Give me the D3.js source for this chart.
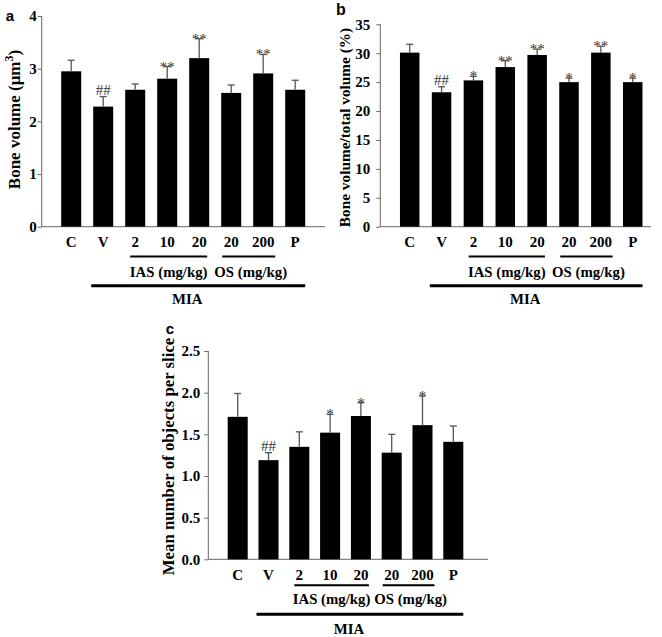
<!DOCTYPE html>
<html><head><meta charset="utf-8">
<script src="https://cdn.jsdelivr.net/npm/d3@7"></script>
<style>body{margin:0;background:#fff}svg{display:block}</style>
</head><body>
<svg id="chart" width="662" height="637"></svg>
<script>
// ---- data ----
const categories = ["C","V","2","10","20","20","200","P"];
const boneVolume = [2.95,2.28,2.60,2.81,3.20,2.54,2.91,2.60];
const boneVolumeErr = [0.21,0.19,0.11,0.23,0.37,0.15,0.36,0.18];
const bvtv = [30.1,23.25,25.3,27.6,29.7,25.0,30.1,25.0];
const bvtvErr = [1.45,0.95,0.7,1.1,1.0,0.7,1.1,0.7];
const objects = [1.71,1.19,1.35,1.52,1.72,1.28,1.61,1.41];
const objectsErr = [0.28,0.09,0.18,0.22,0.16,0.22,0.35,0.19];
const sigA = ["","##","","**","**","","**",""];
const sigB = ["","##","*","**","**","*","**","*"];
const sigC = ["","##","","*","*","","*",""];
const ticksA = [0,1,2,3,4];
const ticksB = [0,5,10,15,20,25,30,35];
const ticksC = [0,0.5,1.0,1.5,2.0,2.5];
const groupIAS = "IAS (mg/kg)", groupOS = "OS (mg/kg)", groupMIA = "MIA";

const svg = d3.select("#chart");
const SERIF = "'Liberation Serif','Times New Roman',serif";
const SANS = "'Liberation Sans',Arial,sans-serif";
const FS = 14.8;

function panel(o){
  const g = svg.append("g");
  const y = d3.scaleLinear().domain(o.domain).range([o.y0, o.y1]);
  const step = o.step;
  const x = d3.scaleBand().domain(d3.range(categories.length))
    .range([o.c0 - step/2, o.c0 - step/2 + step*categories.length])
    .paddingInner(o.pad).paddingOuter(o.pad/2);
  const bw = x.bandwidth();
  // y axis
  const ax = g.append("g").attr("transform",`translate(${o.ax},0)`)
    .call(d3.axisLeft(y).tickValues(o.ticks).tickSize(4).tickPadding(o.tp)
      .tickFormat(o.fmt));
  ax.select(".domain").attr("stroke","#666").attr("d",`M0,${o.y0}V${o.y1}`);
  ax.selectAll(".tick line").attr("stroke","#666");
  ax.selectAll(".tick text").attr("font-family",SERIF).attr("font-weight","bold")
    .attr("font-size",15).attr("fill","#000");
  // x axis baseline
  g.append("line").attr("x1",o.ax).attr("x2",o.axEnd).attr("y1",y(0)).attr("y2",y(0))
    .attr("stroke","#666").attr("stroke-width",1);
  // bars
  g.selectAll("rect.bar").data(o.values).join("rect")
    .attr("x",(d,i)=>x(i)).attr("width",bw)
    .attr("y",d=>y(d)).attr("height",d=>y(0)-y(d)).attr("fill","#000");
  // error bars
  const eg = g.selectAll("g.err").data(o.values).join("g");
  eg.append("line").attr("x1",(d,i)=>x(i)+bw/2).attr("x2",(d,i)=>x(i)+bw/2)
    .attr("y1",d=>y(d)).attr("y2",(d,i)=>y(d+o.err[i])).attr("stroke","#555").attr("stroke-width",1.3);
  eg.append("line").attr("x1",(d,i)=>x(i)+bw/2-3.5).attr("x2",(d,i)=>x(i)+bw/2+3.5)
    .attr("y1",(d,i)=>y(d+o.err[i])).attr("y2",(d,i)=>y(d+o.err[i])).attr("stroke","#555").attr("stroke-width",1.3);
  // significance
  g.selectAll("text.sig").data(o.values).join("text")
    .attr("x",(d,i)=>x(i)+bw/2)
    .attr("y",(d,i)=>y(d+o.err[i]) + (o.sig[i].startsWith("*") ? 5 : -2))
    .attr("text-anchor","middle").attr("font-family",SERIF).attr("font-size",15)
    .attr("fill","#333").text((d,i)=>o.sig[i]);
  // category labels
  g.selectAll("text.cat").data(categories).join("text")
    .attr("x",(d,i)=>x(i)+bw/2).attr("y",o.catY)
    .attr("text-anchor","middle").attr("font-family",SERIF).attr("font-weight","bold")
    .attr("font-size",15).text(d=>d);
  // group lines
  const ias0 = x(2)+5, ias1 = x(4)+bw-2, os0 = x(5)+1, os1 = x(6)+bw+2;
  const mia0 = x(1)-2, mia1 = x(7)+bw;
  g.append("line").attr("x1",ias0).attr("x2",ias1).attr("y1",o.grpY).attr("y2",o.grpY).attr("stroke","#000").attr("stroke-width",2);
  g.append("line").attr("x1",os0).attr("x2",os1).attr("y1",o.grpY).attr("y2",o.grpY).attr("stroke","#000").attr("stroke-width",2);
  g.append("text").attr("x",(ias0+ias1)/2).attr("y",o.grpY+o.grpDy).attr("text-anchor","middle")
    .attr("font-family",SERIF).attr("font-weight","bold").attr("font-size",FS).text(groupIAS);
  g.append("text").attr("x",(os0+os1)/2+2).attr("y",o.grpY+o.grpDy).attr("text-anchor","middle")
    .attr("font-family",SERIF).attr("font-weight","bold").attr("font-size",FS).text(groupOS);
  g.append("line").attr("x1",mia0).attr("x2",mia1).attr("y1",o.miaY).attr("y2",o.miaY).attr("stroke","#000").attr("stroke-width",3);
  g.append("text").attr("x",(mia0+mia1)/2-11).attr("y",o.miaY+o.miaDy).attr("text-anchor","middle")
    .attr("font-family",SERIF).attr("font-weight","bold").attr("font-size",FS).text(groupMIA);
  // y label
  const yl = g.append("text").attr("transform",`translate(${o.ylX},${o.ylY}) rotate(-90)`)
    .attr("text-anchor","middle").attr("font-family",SERIF).attr("font-weight","bold")
    .attr("font-size",o.ylSize);
  o.ylabel(yl);
  // panel letter
  g.append("text").attr("x",o.lx).attr("y",o.ly).attr("font-family",SANS).attr("font-weight","bold")
    .attr("font-size",o.lSize).attr("text-anchor","middle").text(o.letter);
}

panel({values:boneVolume, err:boneVolumeErr, sig:sigA, domain:[0,4], ticks:ticksA, fmt:d3.format("d"),
  y0:226.7, y1:16, ax:41.7, axEnd:325, c0:71.2, step:32, pad:0.375, tp:1,
  catY:246.7, grpY:256.5, grpDy:20.5, miaY:285.7, miaDy:18.6,
  ylX:19.5, ylY:119.5, ylSize:17,
  ylabel: t=>{ t.append("tspan").text("Bone volume (\u03BCm"); t.append("tspan").attr("dy",-7).attr("font-size",12).text("3"); t.append("tspan").attr("dy",7).text(")"); },
  lx:10, ly:21, lSize:15, letter:"a"});

panel({values:bvtv, err:bvtvErr, sig:sigB, domain:[0,35], ticks:ticksB, fmt:d3.format("d"),
  y0:226.7, y1:24.3, ax:380.3, axEnd:651, c0:409.7, step:31.86, pad:0.388, tp:6,
  catY:246.7, grpY:256.5, grpDy:20.5, miaY:285.7, miaDy:18.6,
  ylX:349.5, ylY:127.5, ylSize:15.3,
  ylabel: t=>t.text("Bone volume/total volume (%)"),
  lx:341, ly:15, lSize:16, letter:"b"});

panel({values:objects, err:objectsErr, sig:sigC, domain:[0,2.5], ticks:ticksC, fmt:d3.format(".1f"),
  y0:559.3, y1:351, ax:208.3, axEnd:488, c0:237.7, step:30.8, pad:0.35, tp:4,
  catY:579.5, grpY:585.3, grpDy:18.5, miaY:614.3, miaDy:19.5,
  ylX:174, ylY:456.5, ylSize:16.8,
  ylabel: t=>t.text("Mean number of objects per slice"),
  lx:170, ly:334, lSize:15, letter:"c"});
</script>
</body></html>
